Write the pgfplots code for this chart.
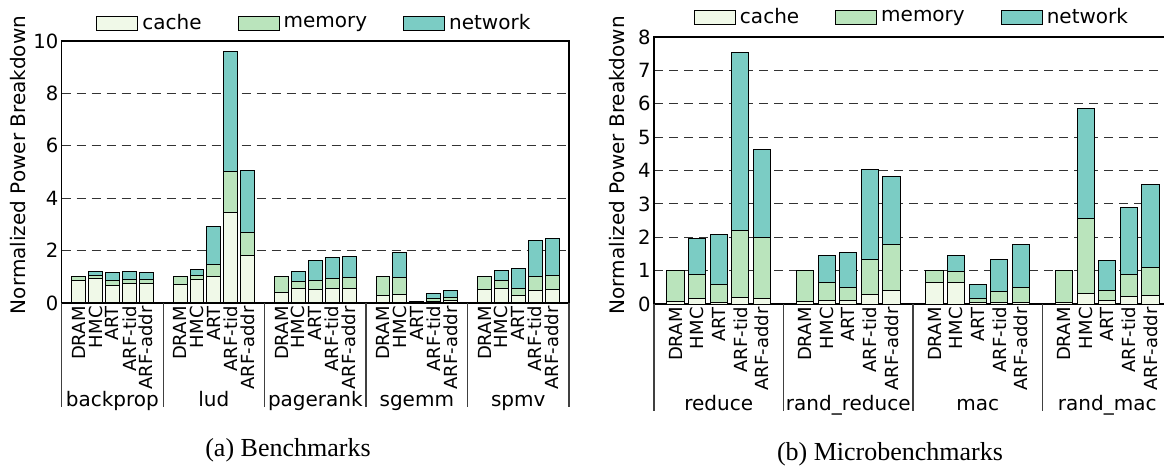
\documentclass[border=0pt]{standalone}
\usepackage{fontspec}
\setmainfont{DejaVu Sans}
\newfontfamily\capfont{Liberation Serif}
\usepackage{pgfplots}
\usepackage{pgfplotstable}
\pgfplotsset{compat=1.18}

\definecolor{cachec}{HTML}{F0F9E8}
\definecolor{memc}{HTML}{BAE4BC}
\definecolor{netc}{HTML}{7BCCC4}

% Benchmarks: groups of five configurations (DRAM, HMC, ART, ARF-tid, ARF-addr)
\pgfplotstableread{
x  cache memory network
1  0.84  0.16  0.00
2  0.92  0.13  0.17
3  0.68  0.18  0.30
4  0.73  0.16  0.33
5  0.73  0.16  0.27
7  0.70  0.30  0.00
8  0.89  0.16  0.23
9  1.00  0.47  1.45
10 3.44  1.58  4.58
11 1.83  0.86  2.37
13 0.40  0.60  0.00
14 0.54  0.27  0.39
15 0.50  0.37  0.75
16 0.54  0.39  0.79
17 0.55  0.42  0.79
19 0.28  0.72  0.00
20 0.32  0.65  0.96
21 0.02  0.02  0.02
22 0.06  0.11  0.19
23 0.09  0.13  0.25
25 0.51  0.49  0.00
26 0.57  0.27  0.40
27 0.27  0.28  0.78
28 0.47  0.55  1.38
29 0.50  0.56  1.41
}\benchtab

% Microbenchmarks
\pgfplotstableread{
x  cache memory network
1  0.06  0.94  0.00
2  0.16  0.72  1.07
3  0.05  0.54  1.49
4  0.19  2.00  5.35
5  0.17  1.81  2.65
7  0.06  0.94  0.00
8  0.11  0.54  0.79
9  0.11  0.39  1.05
10 0.29  1.03  2.70
11 0.41  1.38  2.04
13 0.65  0.35  0.00
14 0.65  0.33  0.46
15 0.04  0.12  0.41
16 0.04  0.33  0.95
17 0.05  0.43  1.31
19 0.05  0.95  0.00
20 0.32  2.25  3.28
21 0.10  0.29  0.92
22 0.21  0.66  2.02
23 0.26  0.83  2.49
}\microtab

\pgfplotsset{
  breakdown/.style={
    scale only axis,
    ybar stacked,
    ymin=0,
    xtick=data,
    major tick length=0pt,
    ymajorgrids,
    major grid style={black!80, line width=0.5pt, dash pattern=on 4.5pt off 3pt},
    axis line style={black, line width=0.7pt},
    /pgf/number format/assume math mode=true,
    yticklabel style={font=\fontsize{9.8}{10}\selectfont, inner sep=1.5pt},
    xticklabel style={rotate=90, anchor=east, font=\fontsize{9}{10}\selectfont, inner sep=1.5pt},
    clip=false,
    every axis plot/.append style={draw=black, line width=0.5pt},
    legend image code/.code={\draw[##1, draw=black, line width=0.5pt] (0pt,-3.5pt) rectangle (20.5pt,3.5pt);},
    legend columns=3,
    legend style={draw=none, fill=none, font=\fontsize{10}{12}\selectfont,
      at={(0.5,1)}, anchor=center,
      /tikz/every even column/.append style={column sep=16pt}},
    ylabel={Normalized Power Breakdown},
    ylabel style={font=\fontsize{10}{12}\selectfont, rotate=0},
    every axis y label/.style={rotate=90, anchor=center},
  },
  configs/.style={xticklabels={DRAM,HMC,ART,ARF-tid,ARF-addr,DRAM,HMC,ART,ARF-tid,ARF-addr,DRAM,HMC,ART,ARF-tid,ARF-addr,DRAM,HMC,ART,ARF-tid,ARF-addr,DRAM,HMC,ART,ARF-tid,ARF-addr}},
}

\begin{document}
\begin{tikzpicture}
% (a) Benchmarks
\begin{axis}[breakdown, configs,
  at={(30.85pt,82pt)}, anchor=south west,
  width=253.65pt, height=131pt,
  xmin=0, xmax=30, ymax=10, ytick={0,2,...,10},
  bar width=0.82,
  legend style={yshift=8.8pt},
  ylabel style={at={(axis description cs:-0.087,0.527)}},
]
\addplot[fill=cachec] table[x=x, y=cache] {\benchtab};
\addplot[fill=memc] table[x=x, y=memory] {\benchtab};
\addplot[fill=netc] table[x=x, y=network] {\benchtab};
\legend{cache,memory,network}
\draw[black!75, line width=0.6pt] (axis cs:0,0) -- ++(0,-52pt);
\draw[black!75, line width=0.6pt] (axis cs:6,0) -- ++(0,-52pt);
\draw[black!75, line width=0.6pt] (axis cs:12,0) -- ++(0,-52pt);
\draw[black!75, line width=0.6pt] (axis cs:18,0) -- ++(0,-52pt);
\draw[black!75, line width=0.6pt] (axis cs:24,0) -- ++(0,-52pt);
\draw[black!75, line width=0.6pt] (axis cs:30,0) -- ++(0,-52pt);
\node[anchor=base, font=\fontsize{10}{12}\selectfont] at ([yshift=-51.8pt]axis cs:3,0) {backprop};
\node[anchor=base, font=\fontsize{10}{12}\selectfont] at ([yshift=-51.8pt]axis cs:9,0) {lud};
\node[anchor=base, font=\fontsize{10}{12}\selectfont] at ([yshift=-51.8pt]axis cs:15,0) {pagerank};
\node[anchor=base, font=\fontsize{10}{12}\selectfont] at ([yshift=-51.8pt]axis cs:21,0) {sgemm};
\node[anchor=base, font=\fontsize{10}{12}\selectfont] at ([yshift=-51.8pt]axis cs:27,0) {spmv};
\end{axis}

% (b) Microbenchmarks
\begin{axis}[breakdown, configs,
  at={(327pt,81.5pt)}, anchor=south west,
  width=259pt, height=133.5pt,
  xmin=0, xmax=24, ymax=8, ytick={0,1,...,8},
  bar width=0.8,
  legend style={yshift=10pt},
  ylabel style={at={(axis description cs:-0.0714,0.52)}},
]
\addplot[fill=cachec] table[x=x, y=cache] {\microtab};
\addplot[fill=memc] table[x=x, y=memory] {\microtab};
\addplot[fill=netc] table[x=x, y=network] {\microtab};
\legend{cache,memory,network}
\draw[black!75, line width=0.6pt] (axis cs:0,0) -- ++(0,-53.5pt);
\draw[black!75, line width=0.6pt] (axis cs:6,0) -- ++(0,-53.5pt);
\draw[black!75, line width=0.6pt] (axis cs:12,0) -- ++(0,-53.5pt);
\draw[black!75, line width=0.6pt] (axis cs:18,0) -- ++(0,-53.5pt);
\draw[black!75, line width=0.6pt] (axis cs:24,0) -- ++(0,-53.5pt);
\node[anchor=base, font=\fontsize{10}{12}\selectfont] at ([yshift=-53pt]axis cs:3,0) {reduce};
\node[anchor=base, font=\fontsize{10}{12}\selectfont] at ([yshift=-53pt]axis cs:9,0) {rand\_reduce};
\node[anchor=base, font=\fontsize{10}{12}\selectfont] at ([yshift=-53pt]axis cs:15,0) {mac};
\node[anchor=base, font=\fontsize{10}{12}\selectfont] at ([yshift=-53pt]axis cs:21,0) {rand\_mac};
\end{axis}

\node[anchor=base, font=\capfont\fontsize{13}{15}\selectfont] at (144pt,5.15pt) {(a) Benchmarks};
\node[anchor=base, font=\capfont\fontsize{13}{15}\selectfont] at (445pt,3.5pt) {(b) Microbenchmarks};

\pgfresetboundingbox
\useasboundingbox (0,0) rectangle (582pt,233.5pt);
\end{tikzpicture}
\end{document}
